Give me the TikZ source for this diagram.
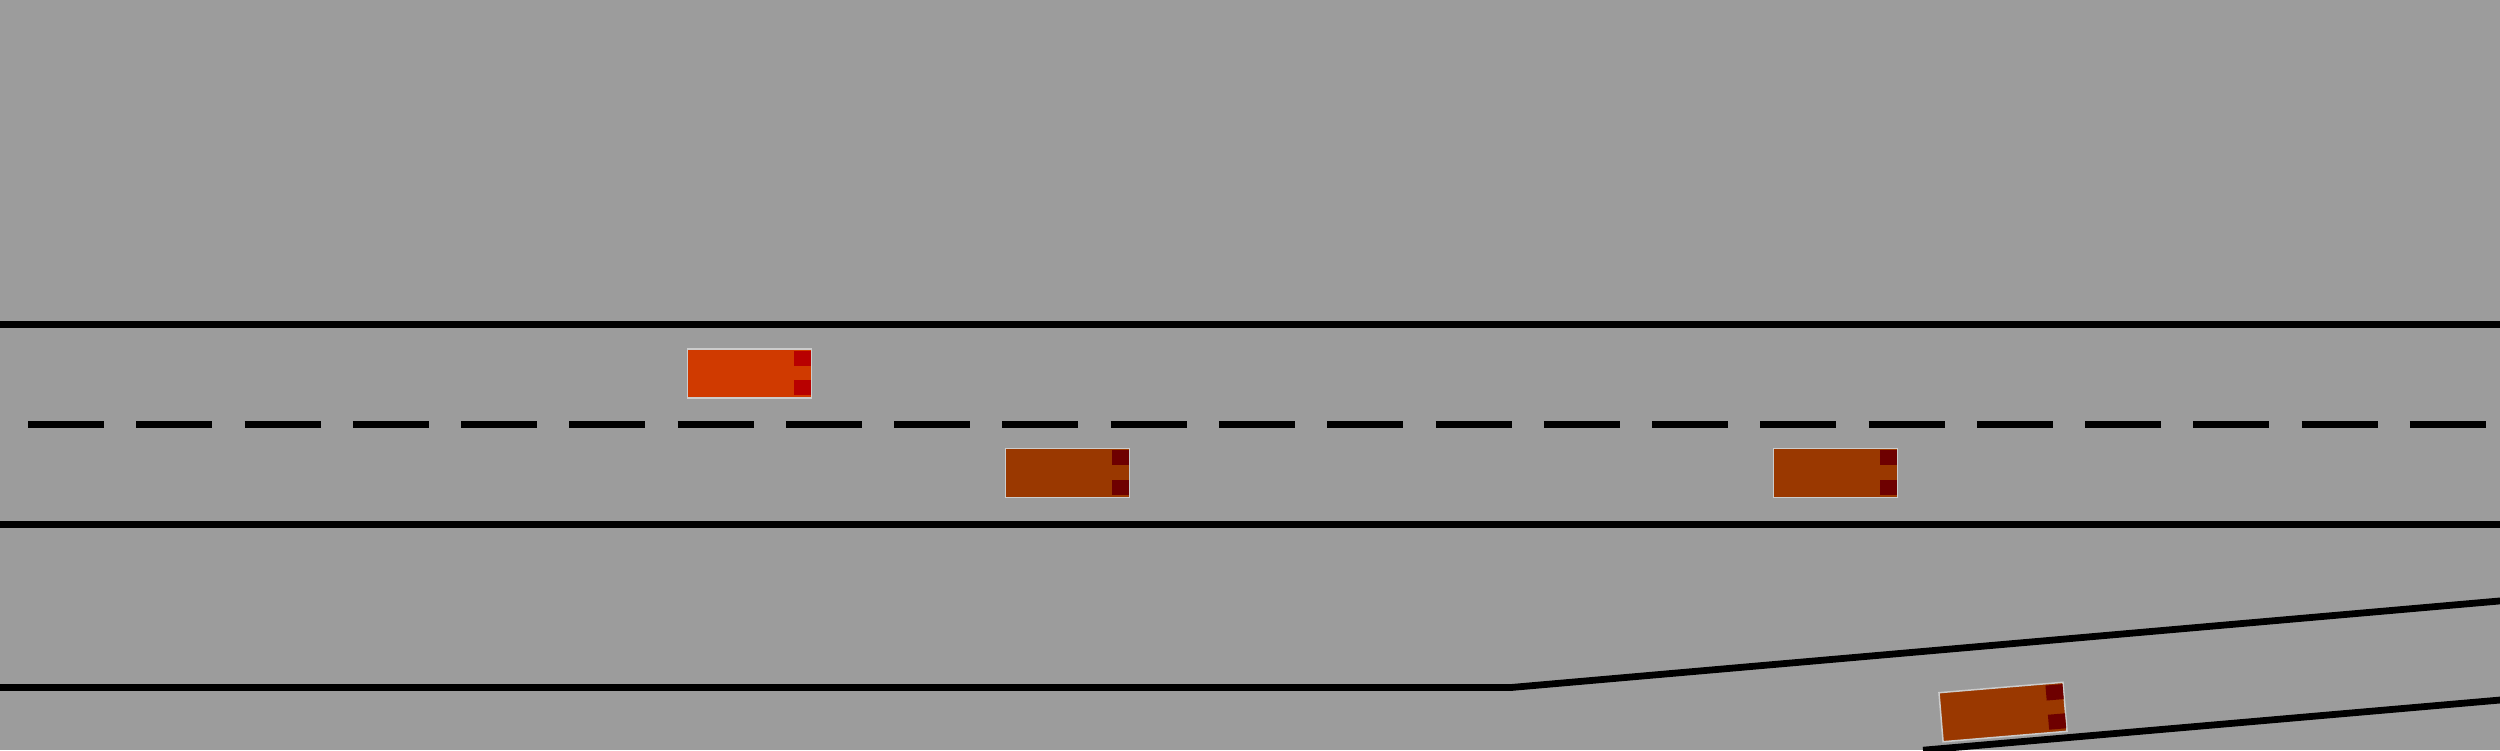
\documentclass[tikz,border=0pt]{standalone}
\definecolor{roadgrey}{RGB}{156,156,156}
\definecolor{carborder}{RGB}{204,204,204}
\definecolor{carred}{RGB}{208,58,0}
\definecolor{lightred}{RGB}{184,0,0}
\definecolor{carbrown}{RGB}{154,56,0}
\definecolor{lightbrown}{RGB}{110,0,0}
\tikzset{
  roadline/.style={line width=6.8pt, black},
  laneline/.style={line width=6.8pt, black, dash pattern=on 76pt off 32.27pt},
  pics/car/.style 2 args={code={
    \path[fill=#1, draw=carborder, line width=1.5pt] (-62.2,-24.6) rectangle (62.2,24.6);
    \fill[#2] (44.5,-22.8) rectangle (61.6,-7.8);
    \fill[#2] (44.5,6.5) rectangle (61.6,21.5);
  }}
}
\begin{document}
\begin{tikzpicture}[x=1pt,y=-1pt]
\useasboundingbox (0,0) rectangle (2500,750);
\clip (0,0) rectangle (2500,750);
\fill[roadgrey] (0,0) rectangle (2500,750);
% road edges
\draw[roadline] (-5,324.5) -- (2505,324.5);
\draw[roadline] (-5,524.5) -- (2505,524.5);
\draw[laneline] (28,424.5) -- (2486,424.5);
% ramp
\draw[roadline] (-5,687.5) -- (1511,687.5) -- (2505,600.5);
\draw[roadline] (1923,750.2) -- (2505,699.6);
% cars
\pic at (749.5,373.5) {car={carred}{lightred}};
\pic at (1067.5,473) {car={carbrown}{lightbrown}};
\pic at (1835.5,473) {car={carbrown}{lightbrown}};
\pic[rotate=4.8] at (2003,712) {car={carbrown}{lightbrown}};
\end{tikzpicture}
\end{document}
